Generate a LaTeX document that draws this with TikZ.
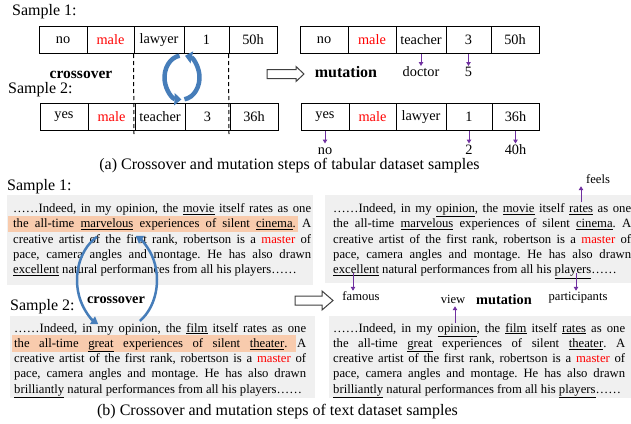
\documentclass[tikz,border=0pt]{standalone}
\usepackage{fontspec}
\setmainfont{Liberation Serif}
\usetikzlibrary{arrows.meta}

\definecolor{cycblue}{RGB}{70,125,185}
\definecolor{mutpurple}{RGB}{112,48,160}
\definecolor{boxgray}{RGB}{240,240,240}
\definecolor{hlorange}{RGB}{248,203,173}

\newcommand{\jline}[1]{\makebox[\linewidth][s]{#1}\\}
\newcommand{\uw}[1]{\underline{#1}}
\newcommand{\redw}[1]{\textcolor{red}{#1}}

\begin{document}
\begin{tikzpicture}[x=1pt, y=-1pt]
\tikzstyle{tcell}=[draw, line width=1pt, rectangle, minimum height=27pt, inner sep=0pt, font=\fontsize{14.3}{16}\selectfont]
\tikzstyle{lbl}=[font=\fontsize{16}{18}\selectfont, inner sep=0pt]
\tikzstyle{boldlbl}=[font=\fontsize{15.5}{18}\selectfont\bfseries, inner sep=0pt]
\tikzstyle{mutword}=[font=\fontsize{14.3}{16}\selectfont, inner sep=1pt, text height=9.5pt, text depth=1pt, anchor=north]
\tikzstyle{smallword}=[font=\fontsize{12.6}{14}\selectfont, inner sep=0.5pt, text height=8.5pt, text depth=2.5pt]
\tikzstyle{mut}=[mutpurple, line width=1pt, -{Triangle[length=4pt,width=4.5pt]}]
\tikzstyle{cutline}=[line width=1pt, dash pattern=on 4pt off 3pt]
\tikzstyle{cyc}=[cycblue, line width=4.5pt, -{Triangle[length=7pt,width=12pt]}]
\tikzstyle{bigcyc}=[cycblue, line width=2.5pt, -{Triangle[length=7pt,width=9pt]}]
\tikzstyle{hollow}=[draw=black!75, line width=1pt, fill=white]
\tikzstyle{para}=[font=\fontsize{12.7}{15.3}\selectfont\frenchspacing, inner sep=0pt, anchor=base west]

\useasboundingbox (0,0) rectangle (631,423);

% (a) tabular samples
\node[lbl, anchor=west] (s1a) at (12,12) {Sample 1:};
\node[lbl, anchor=west] (s2a) at (8,90) {Sample 2:};

\node[tcell, minimum width=48pt] (a1) at (63,40) {no};
\node[tcell, minimum width=47pt] (a2) at (110.5,40) {\redw{male}};
\node[tcell, minimum width=50pt] (a3) at (159,40) {lawyer};
\node[tcell, minimum width=45pt] (a4) at (206.5,40) {1};
\node[tcell, minimum width=48pt] (a5) at (253,40) {50h};

\node[tcell, minimum width=48pt] (b1) at (64,117) {yes};
\node[tcell, minimum width=47pt] (b2) at (111.5,117) {\redw{male}};
\node[tcell, minimum width=50pt] (b3) at (160,117) {teacher};
\node[tcell, minimum width=45pt] (b4) at (207.5,117) {3};
\node[tcell, minimum width=48pt] (b5) at (254,117) {36h};

\coordinate (cutL) at (134,134);
\coordinate (cutR) at (229,134);
\draw[cutline] (a3.south west) -- (cutL);
\draw[cutline] (a5.south west) -- (cutR);

\node[boldlbl] (crossa) at (81,75) {crossover};
\coordinate (swapa) at (182,77.5);
\draw[cyc] (swapa) ++(262:17.5 and 22) arc[start angle=262, end angle=92, x radius=17.5, y radius=22];
\draw[cyc] (swapa) ++(82:17.5 and 22) arc[start angle=82, end angle=-80, x radius=17.5, y radius=22];

\draw[hollow] (267,69.5) -- (296,69.5) -- (296,66.5) -- (304,74) -- (296,81.5) -- (296,78.5) -- (267,78.5) -- cycle;
\node[boldlbl, font=\fontsize{16}{18}\selectfont\bfseries] (muta) at (346,72) {mutation};

\node[tcell, minimum width=48pt] (c1) at (324,40) {no};
\node[tcell, minimum width=48pt] (c2) at (372,40) {\redw{male}};
\node[tcell, minimum width=50pt] (c3) at (421,40) {teacher};
\node[tcell, minimum width=45pt] (c4) at (468.5,40) {3};
\node[tcell, minimum width=48pt] (c5) at (515,40) {50h};

\node[tcell, minimum width=48pt] (d1) at (325,117) {yes};
\node[tcell, minimum width=47pt] (d2) at (372.5,117) {\redw{male}};
\node[tcell, minimum width=50pt] (d3) at (421,117) {lawyer};
\node[tcell, minimum width=46pt] (d4) at (469,117) {1};
\node[tcell, minimum width=47pt] (d5) at (515.5,117) {36h};

\node[mutword] (doctor) at (421,66) {doctor};
\node[mutword] (five) at (468.5,66) {5};
\node[mutword] (no) at (325,143.5) {no};
\node[mutword] (two) at (469,143.5) {2};
\node[mutword] (forty) at (515.5,143.5) {40h};
\draw[mut] (c3.south) -- (doctor.north);
\draw[mut] (c4.south) -- (five.north);
\draw[mut] (d1.south) -- (no.north);
\draw[mut] (d4.south) -- (two.north);
\draw[mut] (d5.south) -- (forty.north);

\node[lbl] (capa) at (289.5,166) {(a) Crossover and mutation steps of tabular dataset samples};

% (b) text samples
\node[lbl, anchor=west] (s1b) at (7,187) {Sample 1:};
\node[lbl, anchor=west] (s2b) at (10,307) {Sample 2:};

\fill[boxgray] (7,195) rectangle (313,285);
\fill[boxgray] (325,195) rectangle (631,283);
\fill[boxgray] (10,316) rectangle (315,398);
\fill[boxgray] (329,316) rectangle (631,398);
\fill[hlorange] (8,216) rectangle (298,232);
\fill[hlorange] (12,335) rectangle (296,352);

\node[para] (pa) at (13,212.5) {\parbox[t]{298pt}{%
\jline{……Indeed, in my opinion, the \uw{movie} itself rates as one}
\jline{the all-time \uw{marvelous} experiences of silent \uw{cinema}. A}
\jline{creative artist of the first rank, robertson is a \redw{master} of}
\jline{pace, camera angles and montage. He has also drawn}
\uw{excellent} natural performances from all his players……}};

\node[para] (pb) at (333,212.5) {\parbox[t]{298pt}{%
\jline{……Indeed, in my \uw{opinion}, the \uw{movie} itself \uw{rates} as one}
\jline{the all-time \uw{marvelous} experiences of silent \uw{cinema}. A}
\jline{creative artist of the first rank, robertson is a \redw{master} of}
\jline{pace, camera angles and montage. He has also drawn}
\uw{excellent} natural performances from all his \uw{players}……}};

\node[para] (pc) at (14,332) {\parbox[t]{292pt}{%
\jline{……Indeed, in my opinion, the \uw{film} itself rates as one}
\jline{the all-time \uw{great} experiences of silent \uw{theater}. A}
\jline{creative artist of the first rank, robertson is a \redw{master} of}
\jline{pace, camera angles and montage. He has also drawn}
\uw{brilliantly} natural performances from all his players……}};

\node[para] (pd) at (333,332) {\parbox[t]{292pt}{%
\jline{……Indeed, in my \uw{opinion}, the \uw{film} itself \uw{rates} as one}
\jline{the all-time \uw{great} experiences of silent \uw{theater}. A}
\jline{creative artist of the first rank, robertson is a \redw{master} of}
\jline{pace, camera angles and montage. He has also drawn}
\uw{brilliantly} natural performances from all his \uw{players}……}};

\node[boldlbl, font=\fontsize{14.3}{16}\selectfont\bfseries] (crossb) at (116,300) {crossover};
\coordinate (swapb) at (117,280);
\draw[bigcyc] (swapb) ++(240:40 and 50) arc[start angle=240, end angle=118, x radius=40, y radius=50];
\draw[bigcyc] (swapb) ++(55:40 and 50) arc[start angle=55, end angle=-62, x radius=40, y radius=50];

\draw[hollow] (295,296) -- (322,296) -- (322,291) -- (333,300.5) -- (322,310) -- (322,305) -- (295,305) -- cycle;
\node[boldlbl, font=\fontsize{14.3}{16}\selectfont\bfseries] (mutb) at (504,300) {mutation};

\coordinate (ratesw) at (581,202);
\coordinate (excw) at (353,273);
\coordinate (playw) at (576,273);
\coordinate (opinw) at (455,323);
\node[smallword] (feels) at (598,180) {feels};
\node[smallword] (famous) at (361,297) {famous};
\node[smallword] (partic) at (578,297) {participants};
\node[smallword] (view) at (453,300) {view};
\draw[mut] (ratesw) -- (ratesw |- feels.south);
\draw[mut] (excw) -- (excw |- famous.north);
\draw[mut] (playw) -- (playw |- partic.north);
\draw[mut] (opinw) -- (opinw |- view.south);

\node[lbl] (capb) at (277.5,412) {(b) Crossover and mutation steps of text dataset samples};
\end{tikzpicture}
\end{document}
